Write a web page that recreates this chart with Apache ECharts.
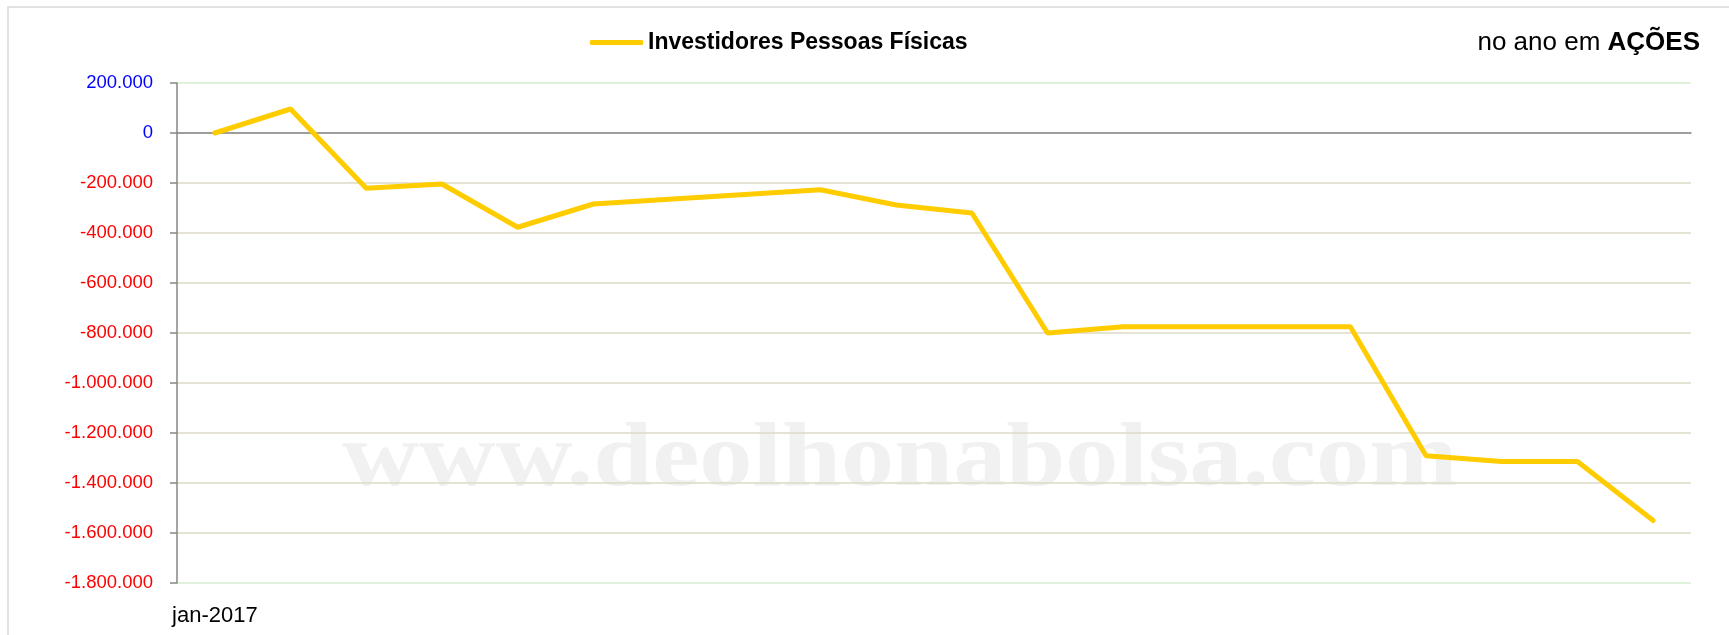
<!DOCTYPE html>
<html>
<head>
<meta charset="utf-8">
<script src="https://cdn.jsdelivr.net/npm/echarts@6/dist/echarts.min.js"></script>
<style>
html,body{margin:0;padding:0;background:#fff;}
#chart{width:1729px;height:635px;}
</style>
</head>
<body>
<div id="chart"></div>
<script>
// Weekly periods starting jan-2017 (only the first label is shown on the axis)
const categories = [
  'jan-2017','jan-2017','jan-2017','jan-2017','fev-2017',
  'fev-2017','fev-2017','fev-2017','mar-2017','mar-2017',
  'mar-2017','mar-2017','mar-2017','abr-2017','abr-2017',
  'abr-2017','abr-2017','mai-2017','mai-2017','mai-2017'
];
const seriesName = 'Investidores Pessoas Físicas';
const values = [
  0, 96000, -221000, -204000, -377000,
  -284000, -265000, -246000, -227000, -288000,
  -320000, -800000, -775000, -775000, -775000,
  -775000, -1291000, -1314000, -1314000, -1550000
];
const yMin = -1800000, yMax = 200000, yStep = 200000;
const titleMain = 'no ano em ';
const titleBold = 'AÇÕES';
const watermark = 'www.deolhonabolsa.com';

function fmt(v){
  const s = Math.abs(v).toString().replace(/\B(?=(\d{3})+(?!\d))/g, '.');
  return (v < 0 ? '-' : '') + s;
}

const chart = echarts.init(document.getElementById('chart'), null, {renderer:'canvas'});
const GREEN = '#d7eed0', TAN = '#dddac5', GRAY = '#868686';
const splitColors = [GREEN, TAN, TAN, TAN, TAN, TAN, TAN, TAN, TAN, TAN, GREEN];

chart.setOption({
  backgroundColor: '#fff',
  animation: false,
  textStyle: {fontFamily: 'Liberation Sans'},
  graphic: [
    {type:'rect', z:-10, silent:true, shape:{x:8, y:7, width:1760, height:700},
     style:{fill:'none', stroke:'#d9d9d9', lineWidth:1.5}},
    {type:'text', z:-5, silent:true, x:900, y:462, scaleX:1.18, scaleY:1.0, originX:0, originY:0,
     style:{text:watermark, fill:'#f1f1f1', font:'bold 90px "Liberation Serif"',
            textAlign:'center', textVerticalAlign:'middle'}}
  ],
  title: {
    text: '{a|' + titleMain + '}{b|' + titleBold + '}',
    right: 29, top: 30, padding: 0,
    textStyle: {
      fontWeight: 'normal',
      rich: {
        a: {fontSize: 26, fontFamily: 'Liberation Sans', fontWeight: 'normal', color: '#000'},
        b: {fontSize: 26, fontFamily: 'Liberation Sans', fontWeight: 'bold', color: '#000'}
      }
    }
  },
  legend: {
    left: 590, top: 31, padding: 0,
    icon: 'roundRect', itemWidth: 53, itemHeight: 5,
    textStyle: {fontSize: 23, fontWeight: 'bold', color: '#000', fontFamily: 'Liberation Sans'},
    data: [seriesName]
  },
  grid: {left: 177, right: 38, top: 83, bottom: 52, containLabel: false},
  xAxis: [
    {
      type: 'category', data: categories, boundaryGap: true, position: 'bottom',
      axisLine: {show: false, onZero: false},
      axisTick: {show: false},
      splitLine: {show: false},
      axisLabel: {
        interval: function(i){ return i === 0; },
        margin: 22, fontSize: 22, color: '#000', fontFamily: 'Liberation Sans'
      }
    },
    {
      type: 'category', data: categories, boundaryGap: true, position: 'top',
      axisLine: {show: true, onZero: true, lineStyle: {color: GRAY, width: 1.5}},
      axisTick: {show: false},
      axisLabel: {show: false},
      splitLine: {show: false}
    }
  ],
  yAxis: {
    type: 'value', min: yMin, max: yMax, interval: yStep,
    axisLine: {show: true, lineStyle: {color: GRAY, width: 1.5}},
    axisTick: {show: true, length: 7, inside: false, lineStyle: {color: GRAY, width: 1.5}},
    splitLine: {show: true, lineStyle: {color: splitColors, width: 1.5}},
    axisLabel: {
      margin: 24, fontSize: 18.5, fontFamily: 'Liberation Sans',
      formatter: fmt,
      color: function(v){ return Number(v) < 0 ? '#ff0000' : '#0000ff'; }
    }
  },
  series: [{
    name: seriesName, type: 'line', data: values, xAxisIndex: 0,
    showSymbol: false, symbol: 'none',
    lineStyle: {color: '#ffcc00', width: 5, cap: 'round'},
    itemStyle: {color: '#ffcc00'},
    z: 5
  }]
});
</script>
</body>
</html>
